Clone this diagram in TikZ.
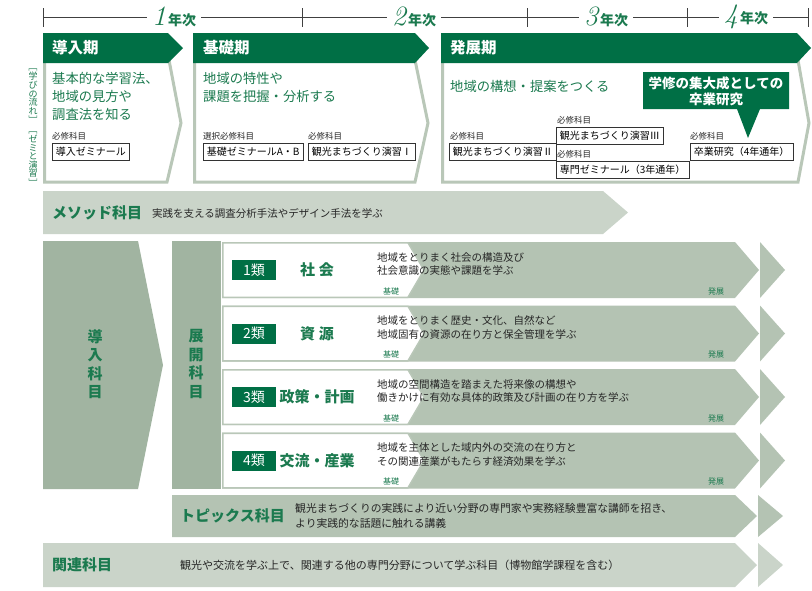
\documentclass[tikz,border=0pt]{standalone}
\usepackage{fontspec}
\usepackage{graphicx}
\newfontfamily\jp{Noto Sans CJK JP}
\definecolor{dkgreen}{HTML}{006F45}
\definecolor{txtgreen}{HTML}{1B7A4F}
\definecolor{boxline}{HTML}{B9C7B8}
\definecolor{barlight}{HTML}{CAD4C9}
\definecolor{colgreen}{HTML}{A1B4A1}
\definecolor{rowgreen}{HTML}{B4C3B3}
\newcommand\vbr[1]{\rotatebox[origin=c]{-90}{#1}}
\tikzset{
  tline/.style={draw=black!75, line width=0.8pt},
  yrlabel/.style={fill=white, inner xsep=5pt, inner ysep=1pt, text=txtgreen},
  phasebox/.style={draw=boxline, line width=3pt, fill=white, line join=miter},
  bannertxt/.style={text=white, font=\jp\bfseries\fontsize{15.5}{18}\selectfont, anchor=west, inner sep=0pt},
  goal/.style={text=txtgreen, font=\jp\fontsize{13.3}{18}\selectfont, align=left, anchor=west, inner sep=0pt},
  req/.style={font=\jp\fontsize{8.5}{10}\selectfont, anchor=west, inner sep=0pt, text=black!85},
  subj/.style={draw=black!80, line width=0.8pt, fill=white, font=\jp\fontsize{10}{12}\selectfont, anchor=north west, inner xsep=3.5pt, inner ysep=0pt, minimum height=17pt},
  callout/.style={text=white, font=\jp\bfseries\fontsize{13.5}{16}\selectfont, align=center, inner sep=0pt},
  barhead/.style={text=txtgreen, font=\jp\bfseries\fontsize{15}{18}\selectfont, anchor=west, inner sep=0pt},
  desc/.style={font=\jp\fontsize{10.5}{13.5}\selectfont, anchor=west, inner sep=0pt, text=black!85, align=left},
  vlab/.style={text=txtgreen, font=\jp\bfseries\fontsize{15}{18.5}\selectfont, align=center, inner sep=0pt},
  catlab/.style={fill=dkgreen, text=white, minimum width=44pt, minimum height=20pt, inner sep=0pt, font=\jp\fontsize{14}{16}\selectfont},
  catname/.style={text=txtgreen, font=\jp\bfseries\fontsize{15}{18}\selectfont, inner sep=0pt},
  lvl/.style={text=txtgreen, font=\jp\fontsize{8}{10}\selectfont, anchor=west, inner sep=0pt},
  sidetxt/.style={text=txtgreen, font=\jp\fontsize{9}{8.6}\selectfont, align=center, inner sep=0pt}
}
\newcommand\catrow[6]{%
  \fill[rowgreen] (222,#1) -- (735,#1) -- (759,#1+28) -- (735,#1+56) -- (222,#1+56) -- cycle;
  \filldraw[fill=white, draw=boxline, line width=1.5pt] (222.75,#1+0.75) -- (408,#1+0.75) -- (424,#1+28) -- (408,#1+55.25) -- (222.75,#1+55.25) -- cycle;
  \fill[rowgreen] (760,#1) -- (785,#1+28) -- (760,#1+56) -- cycle;
  \node[catlab] (lab#2) at (254,#1+28) {#3};
  \node[catname] (nm#2) at (317,#1+28) {#4};
  \node[desc] (ds#2) at (377,#1+22) {#5\\#6};
  \node[lvl] (ki#2) at (383,#1+49) {基礎};
  \node[lvl] (ha#2) at (708,#1+49) {発展};
}
\begin{document}
\begin{tikzpicture}[x=1pt,y=-1pt]
\useasboundingbox (0,0) rectangle (812,590);
\fill[white] (0,0) rectangle (812,590);

% timeline
\draw[tline] (43,17) -- (808,17);
\foreach \tx in {43,302,527,687,808} \draw[tline] (\tx,8) -- (\tx,27);
\node[yrlabel] (y1) at (174,17) {{\fontsize{28}{28}\selectfont\itshape 1}\hspace{2pt}{\jp\bfseries\fontsize{14}{14}\selectfont 年次}};
\node[yrlabel] (y2) at (414,17) {{\fontsize{28}{28}\selectfont\itshape 2}\hspace{2pt}{\jp\bfseries\fontsize{14}{14}\selectfont 年次}};
\node[yrlabel] (y3) at (606,17) {{\fontsize{28}{28}\selectfont\itshape 3}\hspace{2pt}{\jp\bfseries\fontsize{14}{14}\selectfont 年次}};
\node[yrlabel] (y4) at (746,17) {{\fontsize{28}{28}\selectfont\itshape 4}\hspace{2pt}{\jp\bfseries\fontsize{14}{14}\selectfont 年次}};

% side label
\node[sidetxt] (side) at (33,125) {\vbr{［}\\学\\び\\の\\流\\れ\\\vbr{］}\\\vbr{［}\\ゼ\\ミ\\と\\演\\習\\\vbr{］}};

% phase boxes
\draw[phasebox] (44.5,60) -- (169,60) -- (181,123) -- (167,182) -- (44.5,182) -- cycle;
\draw[phasebox] (194.5,60) -- (415,60) -- (428,123) -- (415,182) -- (194.5,182) -- cycle;
\draw[phasebox] (442.5,60) -- (798,60) -- (809,123) -- (798,182) -- (442.5,182) -- cycle;
\fill[dkgreen] (43,33) -- (168,33) -- (183,48) -- (168,63) -- (43,63) -- cycle;
\fill[dkgreen] (193,33) -- (415,33) -- (429,48) -- (415,63) -- (193,63) -- cycle;
\fill[dkgreen] (441,33) -- (797,33) -- (811,48) -- (797,63) -- (441,63) -- cycle;
\node[bannertxt] (p1) at (52,48) {導入期};
\node[bannertxt] (p2) at (203,48) {基礎期};
\node[bannertxt] (p3) at (450,48) {発展期};

\node[goal] (g1) at (52,96) {基本的な学習法、\\地域の見方や\\調査法を知る};
\node[goal] (g2) at (203,87) {地域の特性や\\課題を把握・分析する};
\node[goal] (g3) at (450,86) {地域の構想・提案をつくる};

\node[req] (r1) at (52,136) {必修科目};
\node[subj] (s1) at (52,143) {導入ゼミナール};
\node[req] (r2) at (203,136) {選択必修科目};
\node[subj] (s2) at (203,143) {基礎ゼミナールA・B};
\node[req] (r3) at (308,136) {必修科目};
\node[subj] (s3) at (308,143) {観光まちづくり演習Ⅰ};
\node[req] (r4) at (450,136) {必修科目};
\node[subj] (s4) at (449,143) {観光まちづくり演習Ⅱ};
\node[req] (r5) at (557,120) {必修科目};
\node[subj] (s5) at (556,127) {観光まちづくり演習Ⅲ};
\node[req] (r6) at (557,154) {必修科目};
\node[subj] (s6) at (556,161) {専門ゼミナール（3年通年）};
\node[req] (r7) at (690,136) {必修科目};
\node[subj] (s7) at (690,143) {卒業研究（4年通年）};

% callout
\fill[dkgreen] (643,72) -- (789,72) -- (789,109) -- (760,109) -- (748,138) -- (737,109) -- (643,109) -- cycle;
\node[callout] (co) at (716,91) {学修の集大成としての\\卒業研究};

% method bar
\fill[barlight] (43,191) -- (603,191) -- (628,212.5) -- (603,234) -- (43,234) -- cycle;
\node[barhead] (mh) at (52,213) {メソッド科目};
\node[desc] (md) at (152,213) {実践を支える調査分析手法やデザイン手法を学ぶ};

% main block
\fill[colgreen] (43,241) -- (138,241) -- (163,365) -- (138,489) -- (43,489) -- cycle;
\fill[colgreen] (172,241) rectangle (221,489);
\node[vlab] (intro) at (95,364) {導\\入\\科\\目};
\node[vlab] (dev) at (196,364) {展\\開\\科\\目};

\catrow{242}{1}{1類}{社\hspace{4pt}会}{地域をとりまく社会の構造及び}{社会意識の実態や課題を学ぶ}
\catrow{305.5}{2}{2類}{資\hspace{4pt}源}{地域をとりまく歴史・文化、自然など}{地域固有の資源の在り方と保全管理を学ぶ}
\catrow{369}{3}{3類}{政策・計画}{地域の空間構造を踏まえた将来像の構想や}{働きかけに有効な具体的政策及び計画の在り方を学ぶ}
\catrow{432.5}{4}{4類}{交流・産業}{地域を主体とした域内外の交流の在り方と}{その関連産業がもたらす経済効果を学ぶ}

% topics bar
\fill[rowgreen] (172,495) -- (735,495) -- (757,516) -- (735,537) -- (172,537) -- cycle;
\fill[rowgreen] (758,495) -- (783,516) -- (758,537) -- cycle;
\node[barhead] (th) at (180,516) {トピックス科目};
\node[desc, font=\jp\fontsize{10.8}{15}\selectfont] (td) at (295,516) {観光まちづくりの実践により近い分野の専門家や実務経験豊富な講師を招き、\\より実践的な話題に触れる講義};

% related bar
\fill[barlight] (43,543) -- (735,543) -- (757,565) -- (735,587) -- (43,587) -- cycle;
\fill[barlight] (758,543) -- (783,565) -- (758,587) -- cycle;
\node[barhead] (kh) at (52,565) {関連科目};
\node[desc, font=\jp\fontsize{11}{14}\selectfont] (kd) at (180,565) {観光や交流を学ぶ上で、関連する他の専門分野について学ぶ科目（博物館学課程を含む）};
\end{tikzpicture}
\end{document}
